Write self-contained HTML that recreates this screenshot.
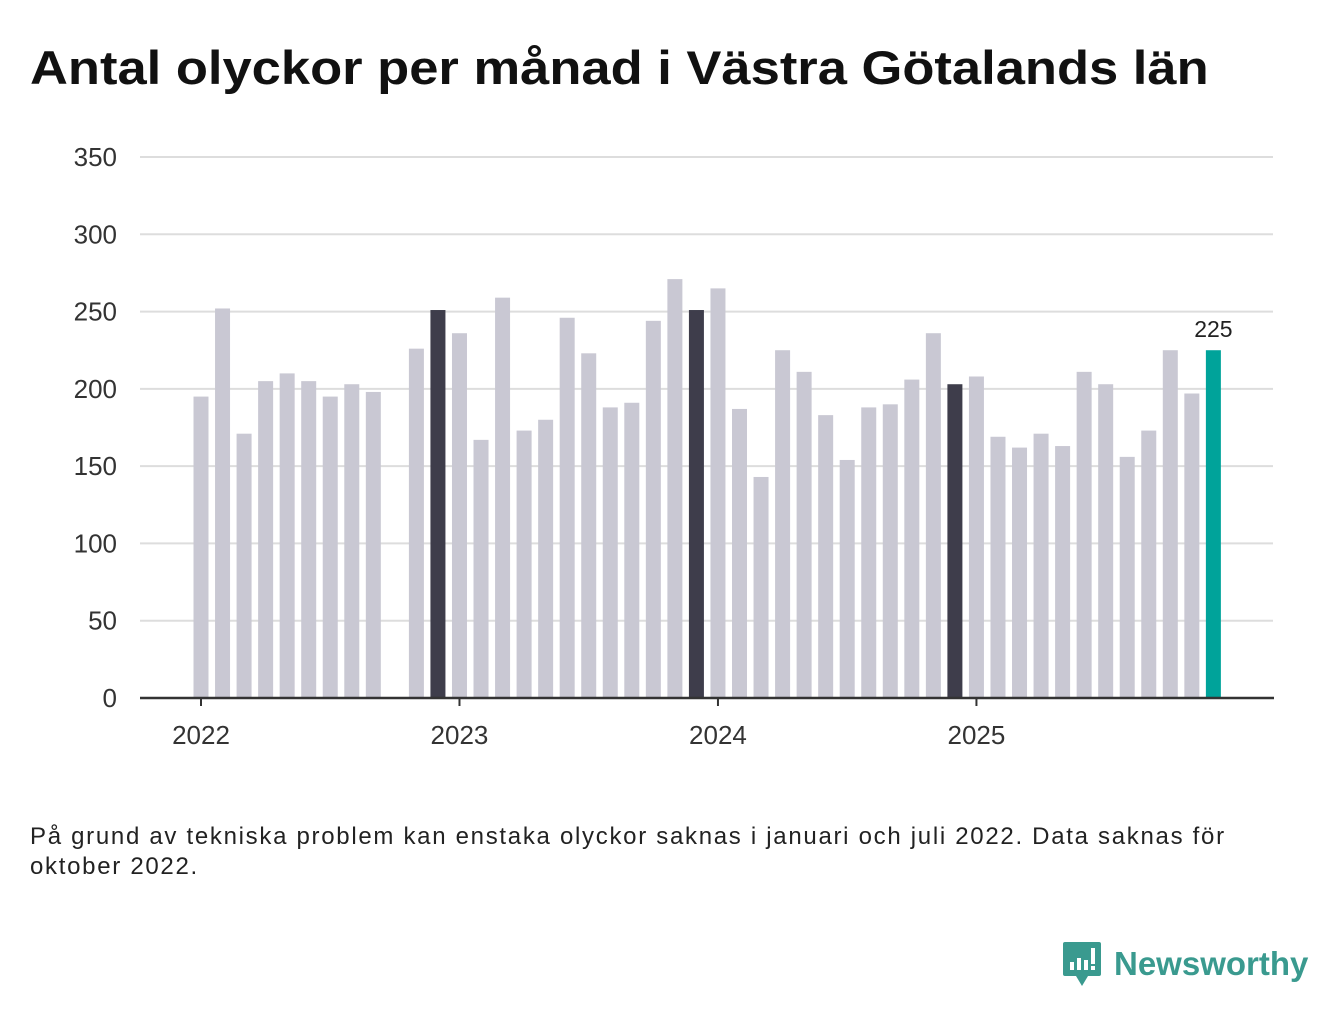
<!DOCTYPE html>
<html><head><meta charset="utf-8"><style>
body{margin:0;width:1340px;height:1020px;background:#fff;font-family:"Liberation Sans","DejaVu Sans",sans-serif;overflow:hidden;position:relative}
h1{position:absolute;left:30px;top:40px;margin:0;font-size:47px;font-weight:bold;color:#111;transform:scaleX(1.117);transform-origin:0 0;white-space:nowrap}
.note{position:absolute;left:30px;top:822px;font-size:24px;color:#222;line-height:30px;width:1300px;letter-spacing:1.7px;white-space:nowrap}
.logo{position:absolute;left:1062px;top:940px;display:flex;align-items:center}
.logo span{font-size:33px;font-weight:bold;color:#3a9a8f;margin-left:12px}
</style></head><body>
<h1>Antal olyckor per månad i Västra Götalands län</h1>
<svg id="chart" width="1340" height="800" style="position:absolute;left:0;top:0"></svg>
<div class="note">På grund av tekniska problem kan enstaka olyckor saknas i januari och juli 2022. Data saknas för<br>oktober 2022.</div>
<div class="logo">
<svg width="40" height="48" viewBox="0 0 40 48"><path d="M3 2h34a2 2 0 0 1 2 2v30a2 2 0 0 1-2 2H26l-6 10-6-10H3a2 2 0 0 1-2-2V4a2 2 0 0 1 2-2z" fill="#3a9a8f"/><rect x="8" y="22" width="4" height="8" fill="#fff"/><rect x="15" y="18" width="4" height="12" fill="#fff"/><rect x="22" y="20" width="4" height="10" fill="#fff"/><rect x="29" y="8" width="4" height="16" fill="#fff"/><rect x="29" y="26" width="4" height="4" fill="#fff"/></svg>
<span>Newsworthy</span></div>
<script>
const months=[];for(let i=0;i<48;i++)months.push(i);
const values=[195,252,171,205,210,205,195,203,198,null,226,251,
236,167,259,173,180,246,223,188,191,244,271,251,
265,187,143,225,211,183,154,188,190,206,236,203,
208,169,162,171,163,211,203,156,173,225,197,225];
const yTicks=[0,50,100,150,200,250,300,350];
const yearLabels=["2022","2023","2024","2025"];
const ns="http://www.w3.org/2000/svg",svg=document.getElementById('chart');
const x=i=>201+i*21.54, y=v=>698-v*541/350;
function el(t,a){const e=document.createElementNS(ns,t);for(const k in a)e.setAttribute(k,a[k]);svg.appendChild(e);return e;}
yTicks.forEach(v=>{
 const g=el('line',{x1:140,x2:1273,y1:y(v),y2:y(v),stroke:'#ddd','stroke-width':2});
 
 
 const t=el('text',{x:117,y:y(v)+9,'text-anchor':'end','font-size':26,fill:'#333'});t.textContent=v;
 
 
});
values.forEach((v,i)=>{
 if(v==null)return;
 const last=i===values.length-1, dark=i%12===11;
 const r=el('rect',{x:x(i)-7.5,y:y(v),width:15,height:698-y(v),fill:last?'#00a39a':dark?'#3e3d4b':'#c9c8d3'});
 
 
 if(last){const t=el('text',{x:x(i),y:y(v)-13,'text-anchor':'middle','font-size':23,fill:'#222'});t.textContent=v;
 
 }
});
const ax=el('line',{x1:140,x2:1274,y1:698,y2:698,stroke:'#333','stroke-width':2.5});


yearLabels.forEach((l,k)=>{
 const px=x(k*12);
 el('line',{x1:px,x2:px,y1:698,y2:706,stroke:'#333','stroke-width':2});
 const t=el('text',{x:px,y:744,'text-anchor':'middle','font-size':26,fill:'#333'});t.textContent=l;
 
 
});
</script>
</body></html>
